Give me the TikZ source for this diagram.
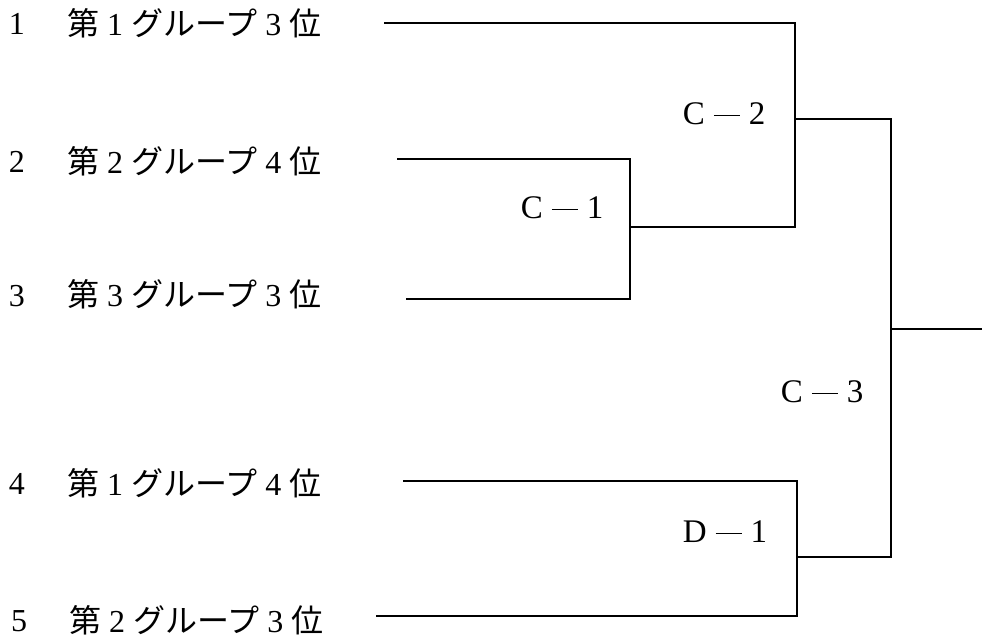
\documentclass[tikz,border=0pt]{standalone}
\usepackage{fontspec}
\setmainfont{Liberation Serif}
\newfontfamily\cjk{Noto Sans CJK JP}
\newcommand\fwd[1]{\makebox[1em]{\rmfamily #1}}
\begin{document}
\begin{tikzpicture}[x=1pt,y=-1pt,
  bline/.style={line width=1.4pt, line cap=rect},
  numlbl/.style={anchor=base, inner sep=0pt, font=\fontsize{32}{32}\selectfont},
  teamlbl/.style={anchor=base west, inner sep=0pt, font=\fontsize{32}{32}\selectfont\cjk},
  matchlbl/.style={anchor=base, inner sep=0pt, font=\fontsize{33}{33}\selectfont}]
\useasboundingbox (0,0) rectangle (982,643);
% entry labels
\node[numlbl] (n1) at (17,34) {1};
\node[numlbl] (n2) at (17,172) {2};
\node[numlbl] (n3) at (17,306) {3};
\node[numlbl] (n4) at (17,494) {4};
\node[numlbl] (n5) at (19,631) {5};
\node[teamlbl] (t1) at (67,35) {第\fwd{1}グループ\fwd{3}位};
\node[teamlbl] (t2) at (67,173) {第\fwd{2}グループ\fwd{4}位};
\node[teamlbl] (t3) at (67,306) {第\fwd{3}グループ\fwd{3}位};
\node[teamlbl] (t4) at (67,495) {第\fwd{1}グループ\fwd{4}位};
\node[teamlbl] (t5) at (69,632) {第\fwd{2}グループ\fwd{3}位};
% bracket points
\coordinate (e1) at (385,23);
\coordinate (e2) at (398,159);
\coordinate (e3) at (407,299);
\coordinate (e4) at (404,481);
\coordinate (e5) at (377,616);
\coordinate (c1) at (630,227);
\coordinate (c2) at (795,119);
\coordinate (d1) at (797,557);
\coordinate (c3) at (891,329);
\coordinate (fin) at (982,329);
% bracket lines
\draw[bline] (e2) -| (c1);
\draw[bline] (e3) -| (c1);
\draw[bline] (e1) -| (c2);
\draw[bline] (c1) -| (c2);
\draw[bline] (e4) -| (d1);
\draw[bline] (e5) -| (d1);
\draw[bline] (c2) -| (c3);
\draw[bline] (d1) -| (c3);
\draw[bline] (c3) -- (fin);
% match labels
\newcommand\mlab[2]{#1\hspace{9pt}\rule[0.24em]{26pt}{1.4pt}\hspace{9pt}#2}
\node[matchlbl] (lc2) at (724,124) {\mlab{C}{2}};
\node[matchlbl] (lc1) at (562,218) {\mlab{C}{1}};
\node[matchlbl] (lc3) at (822,402) {\mlab{C}{3}};
\node[matchlbl] (ld1) at (725,542) {\mlab{D}{1}};
\end{tikzpicture}
\end{document}
